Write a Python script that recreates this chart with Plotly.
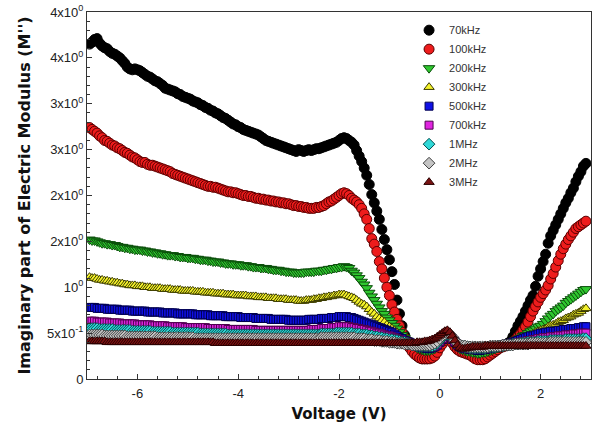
import plotly.graph_objects as go

# ---------------- data ----------------
voltage = [
    -6.95, -6.9, -6.85, -6.8, -6.75, -6.7, -6.65, -6.6, -6.55, -6.5, -6.45, -6.4, -6.35, -6.3, -6.25, -6.2, -6.15, -6.1, -6.05, -6.0,
    -5.95, -5.9, -5.85, -5.8, -5.75, -5.7, -5.65, -5.6, -5.55, -5.5, -5.45, -5.4, -5.35, -5.3, -5.25, -5.2, -5.15, -5.1, -5.05, -5.0,
    -4.95, -4.9, -4.85, -4.8, -4.75, -4.7, -4.65, -4.6, -4.55, -4.5, -4.45, -4.4, -4.35, -4.3, -4.25, -4.2, -4.15, -4.1, -4.05, -4.0,
    -3.95, -3.9, -3.85, -3.8, -3.75, -3.7, -3.65, -3.6, -3.55, -3.5, -3.45, -3.4, -3.35, -3.3, -3.25, -3.2, -3.15, -3.1, -3.05, -3.0,
    -2.95, -2.9, -2.85, -2.8, -2.75, -2.7, -2.65, -2.6, -2.55, -2.5, -2.45, -2.4, -2.35, -2.3, -2.25, -2.2, -2.15, -2.1, -2.05, -2.0,
    -1.95, -1.9, -1.85, -1.8, -1.75, -1.7, -1.65, -1.6, -1.55, -1.5, -1.45, -1.4, -1.35, -1.3, -1.25, -1.2, -1.15, -1.1, -1.05, -1.0,
    -0.95, -0.9, -0.85, -0.8, -0.75, -0.7, -0.65, -0.6, -0.55, -0.5, -0.45, -0.4, -0.35, -0.3, -0.25, -0.2, -0.15, -0.1, -0.05, 0.0,
    0.05, 0.1, 0.15, 0.2, 0.25, 0.3, 0.35, 0.4, 0.45, 0.5, 0.55, 0.6, 0.65, 0.7, 0.75, 0.8, 0.85, 0.9, 0.95, 1.0,
    1.05, 1.1, 1.15, 1.2, 1.25, 1.3, 1.35, 1.4, 1.45, 1.5, 1.55, 1.6, 1.65, 1.7, 1.75, 1.8, 1.85, 1.9, 1.95, 2.0,
    2.05, 2.1, 2.15, 2.2, 2.25, 2.3, 2.35, 2.4, 2.45, 2.5, 2.55, 2.6, 2.65, 2.7, 2.75, 2.8, 2.85, 2.9,
]

m_70khz = [
    3.65, 3.67, 3.70, 3.71, 3.66, 3.63, 3.61, 3.60, 3.57, 3.55, 3.54, 3.52, 3.50, 3.47, 3.44, 3.40, 3.38, 3.37, 3.38, 3.37,
    3.36, 3.34, 3.32, 3.30, 3.29, 3.27, 3.25, 3.24, 3.22, 3.20, 3.17, 3.16, 3.15, 3.14, 3.13, 3.11, 3.10, 3.08, 3.07, 3.06,
    3.05, 3.03, 3.02, 3.01, 2.99, 2.98, 2.96, 2.95, 2.93, 2.92, 2.90, 2.89, 2.87, 2.85, 2.84, 2.82, 2.80, 2.78, 2.77, 2.75,
    2.74, 2.72, 2.71, 2.70, 2.69, 2.68, 2.67, 2.66, 2.64, 2.62, 2.60, 2.59, 2.58, 2.57, 2.56, 2.55, 2.54, 2.53, 2.52, 2.51,
    2.50, 2.49, 2.48, 2.50, 2.49, 2.48, 2.49, 2.50, 2.49, 2.50, 2.51, 2.51, 2.52, 2.53, 2.54, 2.55, 2.56, 2.57, 2.58, 2.60,
    2.62, 2.63, 2.62, 2.60, 2.58, 2.55, 2.49, 2.43, 2.37, 2.30, 2.22, 2.12, 2.01, 1.92, 1.83, 1.74, 1.63, 1.52, 1.41, 1.30,
    1.17, 1.03, 0.86, 0.71, 0.58, 0.48, 0.42, 0.37, 0.32, 0.28, 0.25, 0.23, 0.22, 0.22, 0.22, 0.23, 0.24, 0.27, 0.31, 0.36,
    0.40, 0.43, 0.45, 0.44, 0.40, 0.36, 0.33, 0.31, 0.30, 0.29, 0.28, 0.27, 0.25, 0.23, 0.22, 0.22, 0.22, 0.23, 0.25, 0.27,
    0.29, 0.31, 0.33, 0.35, 0.36, 0.37, 0.39, 0.41, 0.46, 0.52, 0.58, 0.63, 0.68, 0.74, 0.80, 0.86, 0.91, 1.01, 1.12, 1.20,
    1.28, 1.36, 1.48, 1.56, 1.62, 1.68, 1.74, 1.80, 1.86, 1.92, 1.97, 2.03, 2.08, 2.15, 2.21, 2.26, 2.32, 2.35,
]

m_100khz = [
    2.74, 2.72, 2.70, 2.68, 2.65, 2.63, 2.60, 2.59, 2.57, 2.55, 2.54, 2.52, 2.51, 2.49, 2.47, 2.46, 2.44, 2.42, 2.41, 2.39,
    2.37, 2.36, 2.36, 2.34, 2.33, 2.33, 2.32, 2.31, 2.30, 2.29, 2.28, 2.27, 2.26, 2.24, 2.23, 2.22, 2.21, 2.20, 2.19, 2.18,
    2.17, 2.16, 2.15, 2.14, 2.13, 2.12, 2.11, 2.10, 2.10, 2.09, 2.09, 2.08, 2.07, 2.06, 2.05, 2.04, 2.04, 2.03, 2.03, 2.02,
    2.01, 2.00, 2.00, 1.99, 1.99, 1.98, 1.97, 1.97, 1.96, 1.96, 1.95, 1.95, 1.94, 1.94, 1.93, 1.93, 1.92, 1.92, 1.91, 1.91,
    1.90, 1.89, 1.89, 1.88, 1.88, 1.87, 1.87, 1.86, 1.86, 1.86, 1.87, 1.87, 1.88, 1.89, 1.91, 1.93, 1.94, 1.96, 1.98, 2.00,
    2.02, 2.03, 2.02, 2.00, 1.97, 1.95, 1.93, 1.90, 1.86, 1.80, 1.74, 1.64, 1.53, 1.47, 1.39, 1.28, 1.20, 1.10, 1.00, 0.91,
    0.81, 0.73, 0.65, 0.58, 0.51, 0.45, 0.39, 0.34, 0.30, 0.27, 0.25, 0.23, 0.22, 0.22, 0.22, 0.22, 0.23, 0.25, 0.29, 0.34,
    0.38, 0.42, 0.44, 0.43, 0.39, 0.35, 0.32, 0.30, 0.29, 0.28, 0.27, 0.26, 0.24, 0.22, 0.21, 0.21, 0.21, 0.22, 0.24, 0.26,
    0.28, 0.30, 0.32, 0.34, 0.35, 0.36, 0.37, 0.38, 0.40, 0.43, 0.46, 0.49, 0.53, 0.57, 0.62, 0.68, 0.74, 0.79, 0.84, 0.89,
    0.93, 0.97, 1.02, 1.09, 1.15, 1.22, 1.29, 1.36, 1.42, 1.47, 1.52, 1.56, 1.60, 1.64, 1.66, 1.68, 1.70, 1.72,
]

m_200khz = [
    1.52, 1.51, 1.51, 1.50, 1.49, 1.48, 1.48, 1.47, 1.47, 1.46, 1.46, 1.45, 1.44, 1.44, 1.43, 1.43, 1.42, 1.42, 1.41, 1.41,
    1.41, 1.40, 1.40, 1.39, 1.39, 1.38, 1.38, 1.37, 1.37, 1.36, 1.36, 1.35, 1.35, 1.35, 1.34, 1.34, 1.33, 1.33, 1.33, 1.32,
    1.32, 1.32, 1.31, 1.31, 1.30, 1.30, 1.30, 1.29, 1.29, 1.28, 1.28, 1.28, 1.27, 1.27, 1.26, 1.26, 1.26, 1.25, 1.25, 1.25,
    1.24, 1.24, 1.24, 1.23, 1.23, 1.22, 1.22, 1.22, 1.21, 1.21, 1.21, 1.20, 1.20, 1.19, 1.19, 1.19, 1.18, 1.18, 1.17, 1.17,
    1.17, 1.16, 1.16, 1.16, 1.16, 1.16, 1.17, 1.17, 1.17, 1.17, 1.18, 1.18, 1.18, 1.19, 1.19, 1.20, 1.20, 1.21, 1.21, 1.22,
    1.22, 1.23, 1.22, 1.21, 1.18, 1.16, 1.13, 1.10, 1.06, 1.03, 0.99, 0.94, 0.90, 0.86, 0.82, 0.78, 0.74, 0.71, 0.67, 0.64,
    0.61, 0.58, 0.55, 0.51, 0.48, 0.45, 0.42, 0.40, 0.38, 0.36, 0.34, 0.33, 0.32, 0.31, 0.31, 0.31, 0.32, 0.33, 0.36, 0.39,
    0.42, 0.45, 0.47, 0.46, 0.42, 0.38, 0.35, 0.33, 0.32, 0.31, 0.30, 0.30, 0.29, 0.29, 0.28, 0.28, 0.29, 0.29, 0.30, 0.31,
    0.32, 0.33, 0.34, 0.35, 0.36, 0.37, 0.38, 0.39, 0.40, 0.42, 0.43, 0.45, 0.47, 0.48, 0.50, 0.52, 0.53, 0.55, 0.57, 0.58,
    0.60, 0.63, 0.66, 0.69, 0.71, 0.74, 0.76, 0.78, 0.80, 0.83, 0.85, 0.87, 0.89, 0.91, 0.93, 0.95, 0.97, 0.98,
]

m_300khz = [
    1.11, 1.10, 1.10, 1.09, 1.08, 1.08, 1.07, 1.07, 1.06, 1.06, 1.05, 1.05, 1.04, 1.04, 1.03, 1.03, 1.02, 1.02, 1.02, 1.01,
    1.01, 1.01, 1.00, 1.00, 1.00, 0.99, 0.99, 0.99, 0.99, 0.98, 0.98, 0.98, 0.98, 0.97, 0.97, 0.97, 0.97, 0.96, 0.96, 0.96,
    0.96, 0.96, 0.95, 0.95, 0.95, 0.95, 0.94, 0.94, 0.94, 0.94, 0.93, 0.93, 0.93, 0.93, 0.92, 0.92, 0.92, 0.92, 0.91, 0.91,
    0.91, 0.91, 0.91, 0.90, 0.90, 0.90, 0.90, 0.89, 0.89, 0.89, 0.89, 0.88, 0.88, 0.88, 0.88, 0.87, 0.87, 0.87, 0.87, 0.86,
    0.86, 0.86, 0.86, 0.85, 0.85, 0.85, 0.86, 0.86, 0.86, 0.87, 0.87, 0.88, 0.88, 0.89, 0.89, 0.90, 0.90, 0.91, 0.91, 0.92,
    0.92, 0.92, 0.91, 0.90, 0.89, 0.88, 0.86, 0.84, 0.82, 0.81, 0.79, 0.76, 0.73, 0.71, 0.68, 0.66, 0.64, 0.62, 0.59, 0.57,
    0.55, 0.53, 0.51, 0.47, 0.45, 0.43, 0.41, 0.39, 0.37, 0.36, 0.35, 0.34, 0.33, 0.32, 0.32, 0.32, 0.33, 0.34, 0.37, 0.40,
    0.43, 0.45, 0.47, 0.46, 0.43, 0.39, 0.36, 0.34, 0.33, 0.32, 0.31, 0.31, 0.30, 0.30, 0.30, 0.30, 0.30, 0.31, 0.31, 0.32,
    0.33, 0.34, 0.35, 0.36, 0.37, 0.38, 0.39, 0.40, 0.41, 0.42, 0.43, 0.44, 0.45, 0.46, 0.47, 0.48, 0.49, 0.51, 0.52, 0.53,
    0.54, 0.55, 0.57, 0.58, 0.59, 0.60, 0.62, 0.63, 0.64, 0.66, 0.67, 0.68, 0.70, 0.71, 0.72, 0.74, 0.76, 0.77,
]

m_500khz = [
    0.78, 0.78, 0.78, 0.77, 0.77, 0.77, 0.77, 0.76, 0.76, 0.76, 0.76, 0.76, 0.75, 0.75, 0.75, 0.75, 0.75, 0.74, 0.74, 0.74,
    0.74, 0.74, 0.74, 0.73, 0.73, 0.73, 0.73, 0.73, 0.73, 0.72, 0.72, 0.72, 0.72, 0.72, 0.72, 0.71, 0.71, 0.71, 0.71, 0.71,
    0.71, 0.71, 0.70, 0.70, 0.70, 0.70, 0.70, 0.70, 0.69, 0.69, 0.69, 0.69, 0.69, 0.69, 0.68, 0.68, 0.68, 0.68, 0.68, 0.68,
    0.67, 0.67, 0.67, 0.67, 0.67, 0.67, 0.66, 0.66, 0.66, 0.66, 0.66, 0.66, 0.65, 0.65, 0.65, 0.65, 0.65, 0.65, 0.65, 0.64,
    0.64, 0.64, 0.64, 0.64, 0.64, 0.64, 0.64, 0.65, 0.65, 0.65, 0.65, 0.65, 0.66, 0.66, 0.66, 0.66, 0.67, 0.67, 0.67, 0.68,
    0.68, 0.68, 0.68, 0.67, 0.67, 0.66, 0.65, 0.64, 0.63, 0.62, 0.61, 0.60, 0.59, 0.58, 0.57, 0.56, 0.55, 0.54, 0.53, 0.52,
    0.51, 0.49, 0.47, 0.45, 0.44, 0.42, 0.41, 0.40, 0.38, 0.37, 0.36, 0.35, 0.34, 0.34, 0.33, 0.33, 0.34, 0.35, 0.37, 0.40,
    0.43, 0.46, 0.47, 0.46, 0.43, 0.40, 0.37, 0.35, 0.34, 0.33, 0.33, 0.32, 0.32, 0.32, 0.31, 0.31, 0.32, 0.32, 0.33, 0.33,
    0.34, 0.35, 0.35, 0.36, 0.37, 0.38, 0.38, 0.39, 0.40, 0.41, 0.42, 0.43, 0.44, 0.45, 0.46, 0.47, 0.47, 0.48, 0.49, 0.50,
    0.50, 0.51, 0.51, 0.52, 0.52, 0.52, 0.53, 0.53, 0.54, 0.54, 0.54, 0.55, 0.55, 0.55, 0.56, 0.56, 0.57, 0.57,
]

m_700khz = [
    0.63, 0.63, 0.63, 0.62, 0.62, 0.62, 0.62, 0.62, 0.61, 0.61, 0.61, 0.61, 0.61, 0.60, 0.60, 0.60, 0.60, 0.60, 0.60, 0.59,
    0.59, 0.59, 0.59, 0.59, 0.59, 0.58, 0.58, 0.58, 0.58, 0.58, 0.58, 0.57, 0.57, 0.57, 0.57, 0.57, 0.57, 0.57, 0.56, 0.56,
    0.56, 0.56, 0.56, 0.56, 0.56, 0.56, 0.56, 0.55, 0.55, 0.55, 0.55, 0.55, 0.55, 0.55, 0.55, 0.54, 0.54, 0.54, 0.54, 0.54,
    0.54, 0.54, 0.54, 0.54, 0.54, 0.54, 0.53, 0.53, 0.53, 0.53, 0.53, 0.53, 0.53, 0.53, 0.53, 0.53, 0.53, 0.53, 0.53, 0.53,
    0.53, 0.53, 0.53, 0.53, 0.53, 0.53, 0.53, 0.53, 0.54, 0.54, 0.54, 0.54, 0.55, 0.55, 0.55, 0.55, 0.56, 0.56, 0.56, 0.57,
    0.57, 0.57, 0.57, 0.57, 0.56, 0.56, 0.55, 0.55, 0.54, 0.54, 0.53, 0.52, 0.52, 0.51, 0.50, 0.50, 0.49, 0.48, 0.47, 0.47,
    0.46, 0.45, 0.44, 0.43, 0.42, 0.41, 0.40, 0.39, 0.38, 0.37, 0.36, 0.36, 0.35, 0.35, 0.35, 0.35, 0.35, 0.36, 0.38, 0.41,
    0.44, 0.47, 0.48, 0.47, 0.44, 0.41, 0.38, 0.36, 0.35, 0.34, 0.34, 0.33, 0.33, 0.33, 0.33, 0.33, 0.33, 0.33, 0.34, 0.34,
    0.35, 0.35, 0.36, 0.36, 0.37, 0.37, 0.38, 0.38, 0.39, 0.39, 0.40, 0.40, 0.41, 0.41, 0.42, 0.42, 0.43, 0.43, 0.44, 0.44,
    0.45, 0.45, 0.45, 0.46, 0.46, 0.46, 0.47, 0.47, 0.47, 0.48, 0.48, 0.48, 0.49, 0.49, 0.49, 0.50, 0.50, 0.50,
]

m_1mhz = [
    0.55, 0.55, 0.55, 0.55, 0.54, 0.54, 0.54, 0.54, 0.54, 0.54, 0.53, 0.53, 0.53, 0.53, 0.53, 0.53, 0.53, 0.52, 0.52, 0.52,
    0.52, 0.52, 0.52, 0.52, 0.52, 0.51, 0.51, 0.51, 0.51, 0.51, 0.51, 0.51, 0.51, 0.50, 0.50, 0.50, 0.50, 0.50, 0.50, 0.50,
    0.50, 0.50, 0.50, 0.50, 0.49, 0.49, 0.49, 0.49, 0.49, 0.49, 0.49, 0.49, 0.49, 0.49, 0.49, 0.48, 0.48, 0.48, 0.48, 0.48,
    0.48, 0.48, 0.48, 0.48, 0.48, 0.48, 0.48, 0.48, 0.48, 0.48, 0.48, 0.48, 0.48, 0.48, 0.48, 0.48, 0.48, 0.48, 0.48, 0.48,
    0.48, 0.48, 0.48, 0.48, 0.48, 0.48, 0.48, 0.48, 0.48, 0.48, 0.48, 0.48, 0.49, 0.49, 0.49, 0.49, 0.49, 0.49, 0.50, 0.50,
    0.50, 0.50, 0.50, 0.50, 0.50, 0.49, 0.49, 0.49, 0.48, 0.48, 0.48, 0.47, 0.47, 0.46, 0.46, 0.45, 0.45, 0.44, 0.44, 0.43,
    0.43, 0.42, 0.42, 0.41, 0.40, 0.40, 0.39, 0.38, 0.37, 0.37, 0.36, 0.36, 0.36, 0.36, 0.36, 0.36, 0.36, 0.37, 0.39, 0.42,
    0.45, 0.48, 0.49, 0.48, 0.45, 0.42, 0.39, 0.37, 0.36, 0.35, 0.35, 0.34, 0.34, 0.34, 0.34, 0.34, 0.34, 0.34, 0.35, 0.35,
    0.35, 0.35, 0.36, 0.36, 0.36, 0.37, 0.37, 0.37, 0.38, 0.38, 0.38, 0.39, 0.39, 0.39, 0.40, 0.40, 0.40, 0.40, 0.41, 0.41,
    0.41, 0.41, 0.41, 0.42, 0.42, 0.42, 0.42, 0.42, 0.42, 0.43, 0.43, 0.43, 0.43, 0.43, 0.43, 0.43, 0.44, 0.44,
]

m_2mhz = [
    0.48, 0.48, 0.48, 0.48, 0.48, 0.48, 0.47, 0.47, 0.47, 0.47, 0.47, 0.47, 0.47, 0.47, 0.47, 0.46, 0.46, 0.46, 0.46, 0.46,
    0.46, 0.46, 0.46, 0.46, 0.46, 0.46, 0.46, 0.45, 0.45, 0.45, 0.45, 0.45, 0.45, 0.45, 0.45, 0.45, 0.45, 0.45, 0.45, 0.45,
    0.45, 0.45, 0.44, 0.44, 0.44, 0.44, 0.44, 0.44, 0.44, 0.44, 0.44, 0.44, 0.44, 0.44, 0.44, 0.44, 0.44, 0.44, 0.44, 0.44,
    0.44, 0.44, 0.44, 0.44, 0.44, 0.44, 0.44, 0.44, 0.44, 0.44, 0.44, 0.44, 0.44, 0.44, 0.44, 0.44, 0.44, 0.44, 0.44, 0.44,
    0.44, 0.44, 0.44, 0.44, 0.44, 0.44, 0.44, 0.44, 0.44, 0.44, 0.44, 0.44, 0.45, 0.45, 0.45, 0.45, 0.45, 0.45, 0.45, 0.45,
    0.45, 0.45, 0.45, 0.45, 0.45, 0.45, 0.44, 0.44, 0.44, 0.44, 0.43, 0.43, 0.43, 0.42, 0.42, 0.42, 0.41, 0.41, 0.41, 0.40,
    0.40, 0.40, 0.39, 0.39, 0.39, 0.38, 0.38, 0.38, 0.37, 0.37, 0.37, 0.37, 0.37, 0.37, 0.37, 0.37, 0.38, 0.39, 0.41, 0.44,
    0.47, 0.49, 0.50, 0.49, 0.46, 0.42, 0.39, 0.37, 0.36, 0.36, 0.35, 0.35, 0.35, 0.35, 0.35, 0.35, 0.35, 0.35, 0.35, 0.36,
    0.36, 0.36, 0.36, 0.36, 0.37, 0.37, 0.37, 0.37, 0.37, 0.38, 0.38, 0.38, 0.38, 0.38, 0.38, 0.39, 0.39, 0.39, 0.39, 0.39,
    0.39, 0.39, 0.39, 0.40, 0.40, 0.40, 0.40, 0.40, 0.40, 0.40, 0.40, 0.40, 0.40, 0.40, 0.40, 0.40, 0.40, 0.40,
]

m_3mhz = [
    0.41, 0.41, 0.41, 0.41, 0.41, 0.41, 0.41, 0.40, 0.40, 0.40, 0.40, 0.40, 0.40, 0.40, 0.40, 0.40, 0.40, 0.40, 0.40, 0.40,
    0.40, 0.40, 0.40, 0.40, 0.40, 0.40, 0.40, 0.40, 0.40, 0.40, 0.40, 0.40, 0.40, 0.40, 0.40, 0.40, 0.40, 0.40, 0.40, 0.40,
    0.40, 0.40, 0.40, 0.40, 0.40, 0.40, 0.40, 0.40, 0.40, 0.40, 0.39, 0.39, 0.39, 0.39, 0.39, 0.39, 0.39, 0.39, 0.39, 0.39,
    0.39, 0.39, 0.39, 0.39, 0.39, 0.39, 0.39, 0.39, 0.39, 0.39, 0.39, 0.39, 0.39, 0.39, 0.39, 0.39, 0.39, 0.39, 0.39, 0.39,
    0.39, 0.39, 0.39, 0.39, 0.39, 0.39, 0.39, 0.39, 0.39, 0.39, 0.39, 0.39, 0.39, 0.39, 0.39, 0.39, 0.39, 0.39, 0.39, 0.39,
    0.39, 0.39, 0.39, 0.39, 0.39, 0.39, 0.39, 0.39, 0.39, 0.39, 0.39, 0.39, 0.39, 0.39, 0.39, 0.39, 0.39, 0.39, 0.39, 0.39,
    0.39, 0.39, 0.39, 0.39, 0.39, 0.39, 0.39, 0.39, 0.39, 0.39, 0.40, 0.40, 0.40, 0.41, 0.41, 0.42, 0.43, 0.44, 0.46, 0.48,
    0.50, 0.52, 0.53, 0.51, 0.47, 0.42, 0.37, 0.34, 0.33, 0.33, 0.34, 0.34, 0.35, 0.35, 0.35, 0.35, 0.35, 0.36, 0.36, 0.36,
    0.36, 0.36, 0.36, 0.36, 0.36, 0.36, 0.36, 0.36, 0.36, 0.36, 0.36, 0.36, 0.36, 0.36, 0.36, 0.36, 0.36, 0.36, 0.36, 0.36,
    0.36, 0.36, 0.36, 0.36, 0.36, 0.36, 0.36, 0.36, 0.36, 0.36, 0.36, 0.36, 0.36, 0.36, 0.36, 0.36, 0.36, 0.36,
]

series_names = ["70kHz", "100kHz", "200kHz", "300kHz", "500kHz", "700kHz", "1MHz", "2MHz", "3MHz"]
series_values = [m_70khz, m_100khz, m_200khz, m_300khz, m_500khz, m_700khz, m_1mhz, m_2mhz, m_3mhz]

y_tickvals = [0, 0.5, 1.0, 1.5, 2.0, 2.5, 3.0, 3.5, 4.0]
y_ticktext = ["0", "5x10<sup>-1</sup>", "10<sup>0</sup>", "2x10<sup>0</sup>", "2x10<sup>0</sup>",
              "3x10<sup>0</sup>", "3x10<sup>0</sup>", "4x10<sup>0</sup>", "4x10<sup>0</sup>"]
x_tickvals = [-6, -4, -2, 0, 2]
x_ticktext = ["-6", "-4", "-2", "0", "2"]

for vals in series_values:
    assert len(vals) == len(voltage), (len(vals), len(voltage))

# ---------------- styles ----------------
styles = [
    dict(symbol="circle", color="#000000", line="#000000", size=10),
    dict(symbol="circle", color="#ee1c1c", line="#5a0000", size=10),
    dict(symbol="triangle-down", color="#2fc72f", line="#0b4d0b", size=10),
    dict(symbol="triangle-up", color="#f4f22a", line="#3a3a00", size=9),
    dict(symbol="square", color="#1010e6", line="#00004d", size=8),
    dict(symbol="square", color="#e024e0", line="#4d004d", size=8),
    dict(symbol="diamond", color="#30d8d8", line="#004d4d", size=9),
    dict(symbol="diamond", color="#c4c4c4", line="#404040", size=9),
    dict(symbol="triangle-up", color="#7a1212", line="#2a0000", size=9),
]

fig = go.Figure()
for name, vals, st in zip(series_names, series_values, styles):
    fig.add_trace(go.Scatter(
        x=voltage, y=vals, mode="markers", name=name,
        marker=dict(symbol=st["symbol"], color=st["color"], size=st["size"],
                    line=dict(color=st["line"], width=1)),
    ))

axis_font = dict(family="Liberation Sans, Arial, sans-serif", size=13, color="#222222")
xtitle_font = dict(family="DejaVu Sans, Arial, sans-serif", size=15, color="#111111")
ytitle_font = dict(family="DejaVu Sans, Arial, sans-serif", size=16, color="#111111")

fig.update_layout(
    width=593, height=443,
    margin=dict(l=87, r=2, t=12, b=64, autoexpand=False),
    paper_bgcolor="white", plot_bgcolor="white",
    font=dict(family="Liberation Sans, Arial, sans-serif"),
    showlegend=True,
    legend=dict(x=0.639, y=0.99, xanchor="left", yanchor="top",
                bgcolor="rgba(0,0,0,0)", borderwidth=0,
                font=dict(family="Liberation Sans, Arial, sans-serif", size=11, color="#333333"),
                tracegroupgap=0),
    xaxis=dict(
        range=[-7, 3], showgrid=False, zeroline=False, automargin=False,
        showline=True, linecolor="#333333", linewidth=1, mirror=True,
        ticks="inside", ticklen=5, tickcolor="#333333", tickwidth=1,
        tickvals=x_tickvals, ticktext=x_ticktext, tickfont=axis_font, ticklabelstandoff=2,
        minor=dict(ticks="inside", ticklen=3, dtick=0.4, tick0=0, tickcolor="#333333", showgrid=False),
        title=dict(text="<b>Voltage (V)</b>", font=xtitle_font, standoff=8),
    ),
    yaxis=dict(
        range=[0, 4], showgrid=False, zeroline=False, automargin=False,
        showline=True, linecolor="#333333", linewidth=1, mirror=True,
        ticks="inside", ticklen=5, tickcolor="#333333", tickwidth=1,
        tickvals=y_tickvals, ticktext=y_ticktext, tickfont=axis_font,
        minor=dict(ticks="inside", ticklen=3, dtick=0.1, tick0=0, tickcolor="#333333", showgrid=False),
        title=dict(text="<b>Imaginary part of Electric Modulus (M'')</b>", font=ytitle_font, standoff=12),
    ),
)

fig.write_html("out.html", config={"displayModeBar": False},
               post_script="document.body.style.margin='0px';")
